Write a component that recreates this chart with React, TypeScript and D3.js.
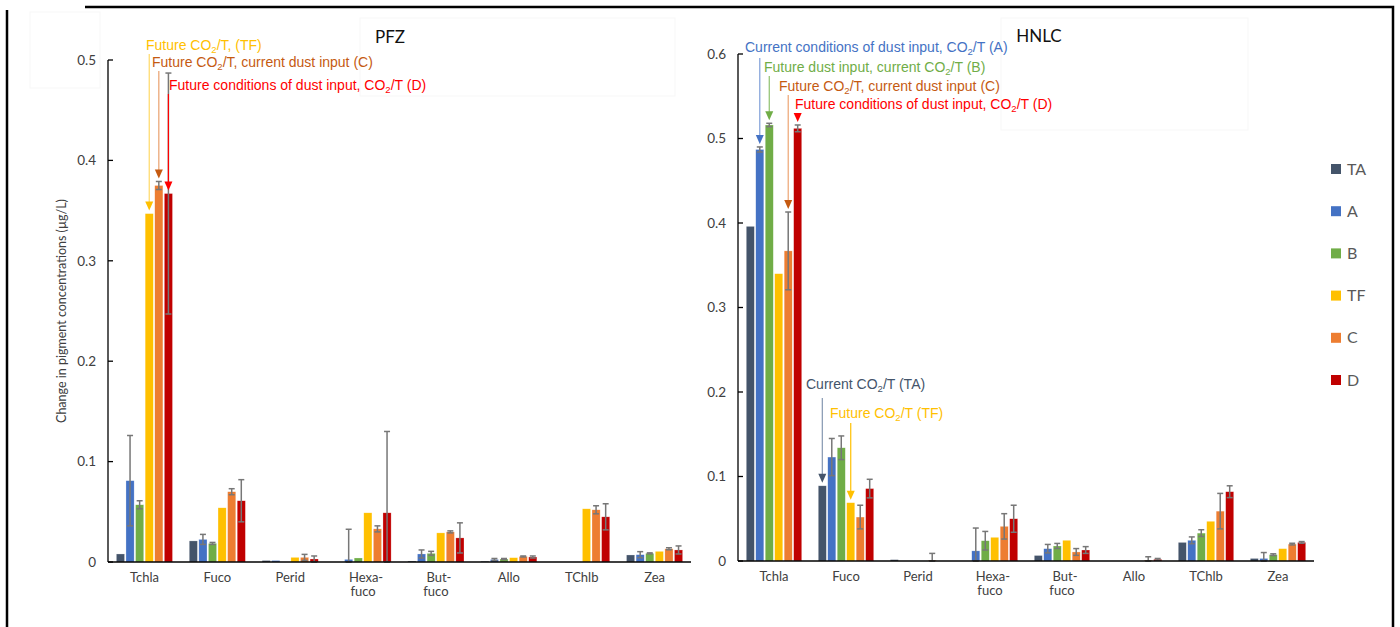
import React from 'react';
import * as d3 from 'd3';

// pigment categories and treatments
const categories = ['Tchla', 'Fuco', 'Perid', 'Hexa-\nfuco', 'But-\nfuco', 'Allo', 'TChlb', 'Zea'];
const seriesKeys = ['TA', 'A', 'B', 'TF', 'C', 'D'];
const seriesColors = ['#44546A', '#4472C4', '#70AD47', '#FFC000', '#ED7D31', '#C00000'];

// PFZ values (µg/L), one row per treatment
const pfzTA = [0.008, 0.021, 0.0015, 0, 0.001, 0.0008, 0, 0.007];
const pfzA = [0.081, 0.0225, 0.0015, 0.0026, 0.008, 0.0025, 0, 0.0073];
const pfzB = [0.057, 0.0185, 0, 0.004, 0.0086, 0.003, 0, 0.0086];
const pfzTF = [0.347, 0.054, 0.0046, 0.049, 0.029, 0.0043, 0.053, 0.0106];
const pfzC = [0.375, 0.07, 0.0046, 0.033, 0.03, 0.0055, 0.052, 0.0132];
const pfzD = [0.367, 0.061, 0.003, 0.049, 0.024, 0.005, 0.045, 0.012];

const pfzErrTA = [0, 0, 0, 0, 0, 0, 0, 0];
const pfzErrA = [0.045, 0.005, 0, 0.03, 0.004, 0.001, 0, 0.003];
const pfzErrB = [0.004, 0.001, 0, 0, 0.002, 0.0005, 0, 0.0005];
const pfzErrTF = [0, 0, 0, 0, 0, 0, 0, 0];
const pfzErrC = [0.004, 0.003, 0.003, 0.003, 0.001, 0.0005, 0.004, 0.001];
const pfzErrD = [0.12, 0.021, 0.003, 0.081, 0.015, 0.001, 0.013, 0.004];

// HNLC values
const hnlcTA = [0.396, 0.089, 0.0016, 0, 0.0065, 0, 0.022, 0.003];
const hnlcA = [0.487, 0.123, 0, 0.012, 0.0146, 0, 0.0245, 0.003];
const hnlcB = [0.516, 0.134, 0, 0.024, 0.0178, 0, 0.033, 0.0075];
const hnlcTF = [0.34, 0.069, 0, 0.028, 0.0245, 0, 0.047, 0.0146];
const hnlcC = [0.367, 0.052, 0.001, 0.041, 0.0107, 0.001, 0.059, 0.02];
const hnlcD = [0.512, 0.0857, 0, 0.05, 0.013, 0.002, 0.082, 0.022];

const hnlcErrTA = [0, 0, 0, 0, 0, 0, 0, 0];
const hnlcErrA = [0.003, 0.022, 0, 0.027, 0.005, 0, 0.004, 0.007];
const hnlcErrB = [0.002, 0.014, 0, 0.011, 0.003, 0, 0.004, 0.001];
const hnlcErrTF = [0, 0, 0, 0, 0, 0, 0, 0];
const hnlcErrC = [0.046, 0.014, 0.008, 0.015, 0.004, 0.004, 0.021, 0.001];
const hnlcErrD = [0.004, 0.011, 0, 0.016, 0.004, 0.001, 0.007, 0.001];

const pfzTicks = [0, 0.1, 0.2, 0.3, 0.4, 0.5];
const hnlcTicks = [0, 0.1, 0.2, 0.3, 0.4, 0.5, 0.6];

const labelFont = 'Lato, "Open Sans", sans-serif';
const noteFont = '"Liberation Sans Narrow", "Liberation Sans", Arial, sans-serif';

type Note = {
  pre: string; post: string; color: string; lineColor: string;
  tx: number; ty: number; startY: number; series: number; cat: number; toErr: boolean;
};

// annotations: text position + which bar the arrow points at
const pfzNotes: Note[] = [
  { pre: 'Future CO', post: '/T, (TF)', color: '#FFC000', lineColor: '#FFD966', tx: 146, ty: 50, startY: 54, series: 3, cat: 0, toErr: false },
  { pre: 'Future CO', post: '/T, current dust input (C)', color: '#C55A11', lineColor: '#E9A06E', tx: 152, ty: 67, startY: 71, series: 4, cat: 0, toErr: true },
  { pre: 'Future conditions of dust input, CO', post: '/T (D)', color: '#FF0000', lineColor: '#FF0000', tx: 169, ty: 90, startY: 94, series: 5, cat: 0, toErr: false },
];
const hnlcNotes: Note[] = [
  { pre: 'Current conditions of dust input, CO', post: '/T (A)', color: '#4472C4', lineColor: '#7F9FD8', tx: 745, ty: 52, startY: 58, series: 1, cat: 0, toErr: true },
  { pre: 'Future dust input, current CO', post: '/T (B)', color: '#70AD47', lineColor: '#8FC06E', tx: 764, ty: 72, startY: 76, series: 2, cat: 0, toErr: true },
  { pre: 'Future CO', post: '/T, current dust input (C)', color: '#C55A11', lineColor: '#EDA473', tx: 779, ty: 91, startY: 95, series: 4, cat: 0, toErr: true },
  { pre: 'Future conditions of dust input, CO', post: '/T (D)', color: '#FF0000', lineColor: '#FF0000', tx: 795, ty: 109, startY: 113, series: 5, cat: 0, toErr: true },
  { pre: 'Current CO', post: '/T (TA)', color: '#44546A', lineColor: '#8497B0', tx: 806, ty: 389, startY: 398, series: 0, cat: 1, toErr: false },
  { pre: 'Future CO', post: '/T (TF)', color: '#FFC000', lineColor: '#FFC000', tx: 830, ty: 418, startY: 423, series: 3, cat: 1, toErr: false },
];

type PanelProps = {
  values: number[][]; errors: number[][]; ticks: number[]; yMax: number;
  x0: number; x1: number; yTop: number; yBottom: number; notes: Note[];
};

const Panel = ({ values, errors, ticks, yMax, x0, x1, yTop, yBottom, notes }: PanelProps) => {
  const x = d3.scaleBand<number>().domain(d3.range(categories.length)).range([x0, x1])
    .paddingInner(0.23).paddingOuter(0.115);
  const xs = d3.scaleBand<number>().domain(d3.range(seriesKeys.length)).range([0, x.bandwidth()])
    .paddingInner(0.15);
  const y = d3.scaleLinear().domain([0, yMax]).range([yBottom, yTop]);
  const errColor = '#777777';

  return (
    <g>
      {/* bars */}
      {seriesKeys.map((k, si) => (
        <g key={k}>
          {values[si].map((v, ci) => v > 0 && (
            <rect key={ci} x={x(ci)! + xs(si)!} y={y(v)} width={xs.bandwidth()}
              height={y(0) - y(v)} fill={seriesColors[si]} stroke="#ffffff" strokeOpacity={0.5} strokeWidth={0.5} />
          ))}
        </g>
      ))}
      {/* error bars */}
      {seriesKeys.map((k, si) => (
        <g key={'e' + k} stroke={errColor} strokeWidth={1.5}>
          {errors[si].map((e, ci) => {
            if (!(e > 0)) return null;
            const cx = x(ci)! + xs(si)! + xs.bandwidth() / 2;
            const v = values[si][ci];
            const lo = y(Math.max(0, v - e)), hi = y(v + e);
            return (
              <g key={ci}>
                <line x1={cx} x2={cx} y1={lo} y2={hi} />
                <line x1={cx - 3} x2={cx + 3} y1={hi} y2={hi} />
                <line x1={cx - 3} x2={cx + 3} y1={lo} y2={lo} />
              </g>
            );
          })}
        </g>
      ))}
      {/* y axis */}
      <line x1={x0} x2={x0} y1={y(yMax)} y2={y(0)} stroke="#000" strokeWidth={1.3} />
      {ticks.map((t) => (
        <g key={t}>
          <line x1={x0} x2={x0 + 5} y1={y(t)} y2={y(t)} stroke="#000" strokeWidth={1.3} />
          <text x={x0 - 12} y={y(t)} dy="0.35em" textAnchor="end" fontSize={13.5}
            fontFamily={labelFont} fill="#404040">{d3.format('')(t)}</text>
        </g>
      ))}
      {/* x axis */}
      <line x1={x0} x2={x1} y1={y(0)} y2={y(0)} stroke="#000" strokeWidth={1.3} />
      {categories.map((c, ci) => (
        <text key={c} x={x(ci)! + x.bandwidth() / 2} y={y(0) + 20} textAnchor="middle"
          fontSize={13} fontFamily={labelFont} fill="#404040">
          {c.split('\n').map((line, li) => (
            <tspan key={li} x={x(ci)! + x.bandwidth() / 2 + (li === 0 && c.includes('\n') ? 3 : 0)} dy={li === 0 ? 0 : 14}>{line}</tspan>
          ))}
        </text>
      ))}
      {/* annotations */}
      {notes.map((n, i) => {
        const cx = x(n.cat)! + xs(n.series)! + xs.bandwidth() / 2;
        const top = values[n.series][n.cat] + (n.toErr ? errors[n.series][n.cat] : 0);
        const tip = y(top) - 3;
        return (
          <g key={i}>
            <line x1={cx} x2={cx} y1={n.startY} y2={tip - 8} stroke={n.lineColor} strokeWidth={1.2} />
            <path d={`M${cx - 4},${tip - 9} L${cx + 4},${tip - 9} L${cx},${tip} Z`} fill={n.color} />
            <text x={n.tx} y={n.ty} fontSize={14} fontFamily={noteFont} fill={n.color}>
              {n.pre}
              <tspan fontSize={9.5} dy={3}>2</tspan>
              <tspan dy={-3}>{n.post}</tspan>
            </text>
          </g>
        );
      })}
    </g>
  );
};

const App = () => {
  const pfzValues = [pfzTA, pfzA, pfzB, pfzTF, pfzC, pfzD];
  const pfzErrors = [pfzErrTA, pfzErrA, pfzErrB, pfzErrTF, pfzErrC, pfzErrD];
  const hnlcValues = [hnlcTA, hnlcA, hnlcB, hnlcTF, hnlcC, hnlcD];
  const hnlcErrors = [hnlcErrTA, hnlcErrA, hnlcErrB, hnlcErrTF, hnlcErrC, hnlcErrD];

  return (
    <svg width={1400} height={627} style={{ position: 'absolute', left: 0, top: 0, background: '#fff' }}>
      <rect width={1400} height={627} fill="#fff" />
      {/* faint plot-area boxes */}
      <rect x={30} y={12} width={70} height={76} fill="none" stroke="#f7f7f7" />
      <rect x={360} y={18} width={315} height={78} fill="none" stroke="#f7f7f7" />
      <rect x={1001} y={18} width={247} height={112} fill="none" stroke="#f7f7f7" />
      {/* outer frame */}
      <path d="M7,627 L7,10" fill="none" stroke="#000" strokeWidth={2.5} />
      <path d="M85,7 L1393,7 L1393,627" fill="none" stroke="#000" strokeWidth={2.5} />
      <text x={390} y={43} textAnchor="middle" fontSize={17} fontFamily={labelFont} fill="#111">PFZ</text>
      <text x={1039} y={42} textAnchor="middle" fontSize={17} fontFamily={labelFont} fill="#111">HNLC</text>
      <text transform="translate(66,311) rotate(-90)" textAnchor="middle" fontSize={12.5}
        fontFamily={labelFont} fill="#404040">Change in pigment concentrations (µg/L)</text>
      <Panel values={pfzValues} errors={pfzErrors} ticks={pfzTicks} yMax={0.5}
        x0={108} x1={691} yTop={60} yBottom={562} notes={pfzNotes} />
      <Panel values={hnlcValues} errors={hnlcErrors} ticks={hnlcTicks} yMax={0.6}
        x0={738} x1={1314} yTop={54} yBottom={561} notes={hnlcNotes} />
      {/* legend */}
      {seriesKeys.map((k, i) => (
        <g key={k} transform={`translate(1331,${169 + i * 42.2})`}>
          <rect x={0} y={-5} width={10} height={10} fill={seriesColors[i]} />
          <text x={16} y={0} dy="0.35em" fontSize={16} fontFamily={labelFont} fill="#595959">{k}</text>
        </g>
      ))}
    </svg>
  );
};

export default App;
